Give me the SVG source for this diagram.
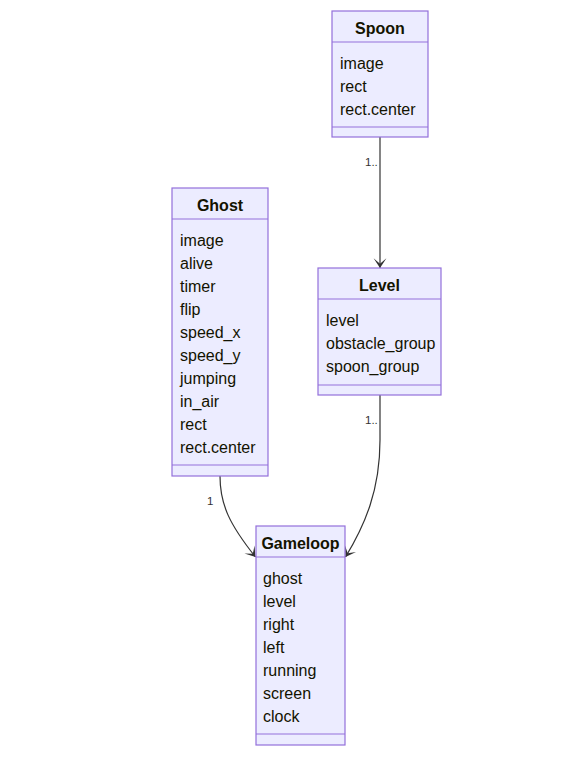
<svg xmlns="http://www.w3.org/2000/svg" width="580" height="765" viewBox="0 0 580 765">
<style>
.box{fill:#ECECFF;stroke:#9370DB;stroke-width:1.2}
.div{stroke:#9370DB;stroke-width:1.2}
.t{font-family:"Liberation Sans",Arial,sans-serif;font-size:16px;fill:#131300}
.h{font-weight:bold;text-anchor:middle}
.e{fill:none;stroke:#333333;stroke-width:1.2}
.c{font-family:"Liberation Sans",Arial,sans-serif;font-size:11.5px;fill:#333333}
</style>
<defs>
<marker id="arr" viewBox="0 0 20 14" refX="18" refY="7" markerWidth="22" markerHeight="15" markerUnits="userSpaceOnUse" orient="auto">
<path d="M18,7 L9,13 L14,7 L9,1 Z" fill="#333333"/>
</marker>
</defs>
<rect width="580" height="765" fill="#ffffff"/>
<g id="connectors">
<path class="e" d="M380,137 L380,268" marker-end="url(#arr)"/>
<path class="e" d="M220,476 C220,505 230,525 255.5,557" marker-end="url(#arr)"/>
<path class="e" d="M380,395 L380,440 C380,490 365,525 345.5,557" marker-end="url(#arr)"/>
<text class="c" x="365" y="166">1..</text>
<text class="c" x="365" y="424">1..</text>
<text class="c" x="207" y="505">1</text>
</g>
<g id="Spoon">
<rect class="box" x="332" y="11" width="96" height="126"/>
<line class="div" x1="332" y1="42" x2="428" y2="42"/>
<line class="div" x1="332" y1="127" x2="428" y2="127"/>
<text class="t h" x="380" y="34">Spoon</text>
<text class="t" x="340" y="69">image</text>
<text class="t" x="340" y="92">rect</text>
<text class="t" x="340" y="115">rect.center</text>
</g>
<g id="Ghost">
<rect class="box" x="172" y="188" width="96" height="288"/>
<line class="div" x1="172" y1="219" x2="268" y2="219"/>
<line class="div" x1="172" y1="465" x2="268" y2="465"/>
<text class="t h" x="220" y="211">Ghost</text>
<text class="t" x="180" y="246">image</text>
<text class="t" x="180" y="269">alive</text>
<text class="t" x="180" y="292">timer</text>
<text class="t" x="180" y="315">flip</text>
<text class="t" x="180" y="338">speed_x</text>
<text class="t" x="180" y="361">speed_y</text>
<text class="t" x="180" y="384">jumping</text>
<text class="t" x="180" y="407">in_air</text>
<text class="t" x="180" y="430">rect</text>
<text class="t" x="180" y="453">rect.center</text>
</g>
<g id="Level">
<rect class="box" x="318" y="268" width="123" height="127"/>
<line class="div" x1="318" y1="299" x2="441" y2="299"/>
<line class="div" x1="318" y1="385" x2="441" y2="385"/>
<text class="t h" x="379.5" y="291">Level</text>
<text class="t" x="326" y="326">level</text>
<text class="t" x="326" y="349">obstacle_group</text>
<text class="t" x="326" y="372">spoon_group</text>
</g>
<g id="Gameloop">
<rect class="box" x="256" y="526" width="89" height="219"/>
<line class="div" x1="256" y1="557" x2="345" y2="557"/>
<line class="div" x1="256" y1="734" x2="345" y2="734"/>
<text class="t h" x="300.5" y="549">Gameloop</text>
<text class="t" x="263" y="584">ghost</text>
<text class="t" x="263" y="607">level</text>
<text class="t" x="263" y="630">right</text>
<text class="t" x="263" y="653">left</text>
<text class="t" x="263" y="676">running</text>
<text class="t" x="263" y="699">screen</text>
<text class="t" x="263" y="722">clock</text>
</g>
</svg>
